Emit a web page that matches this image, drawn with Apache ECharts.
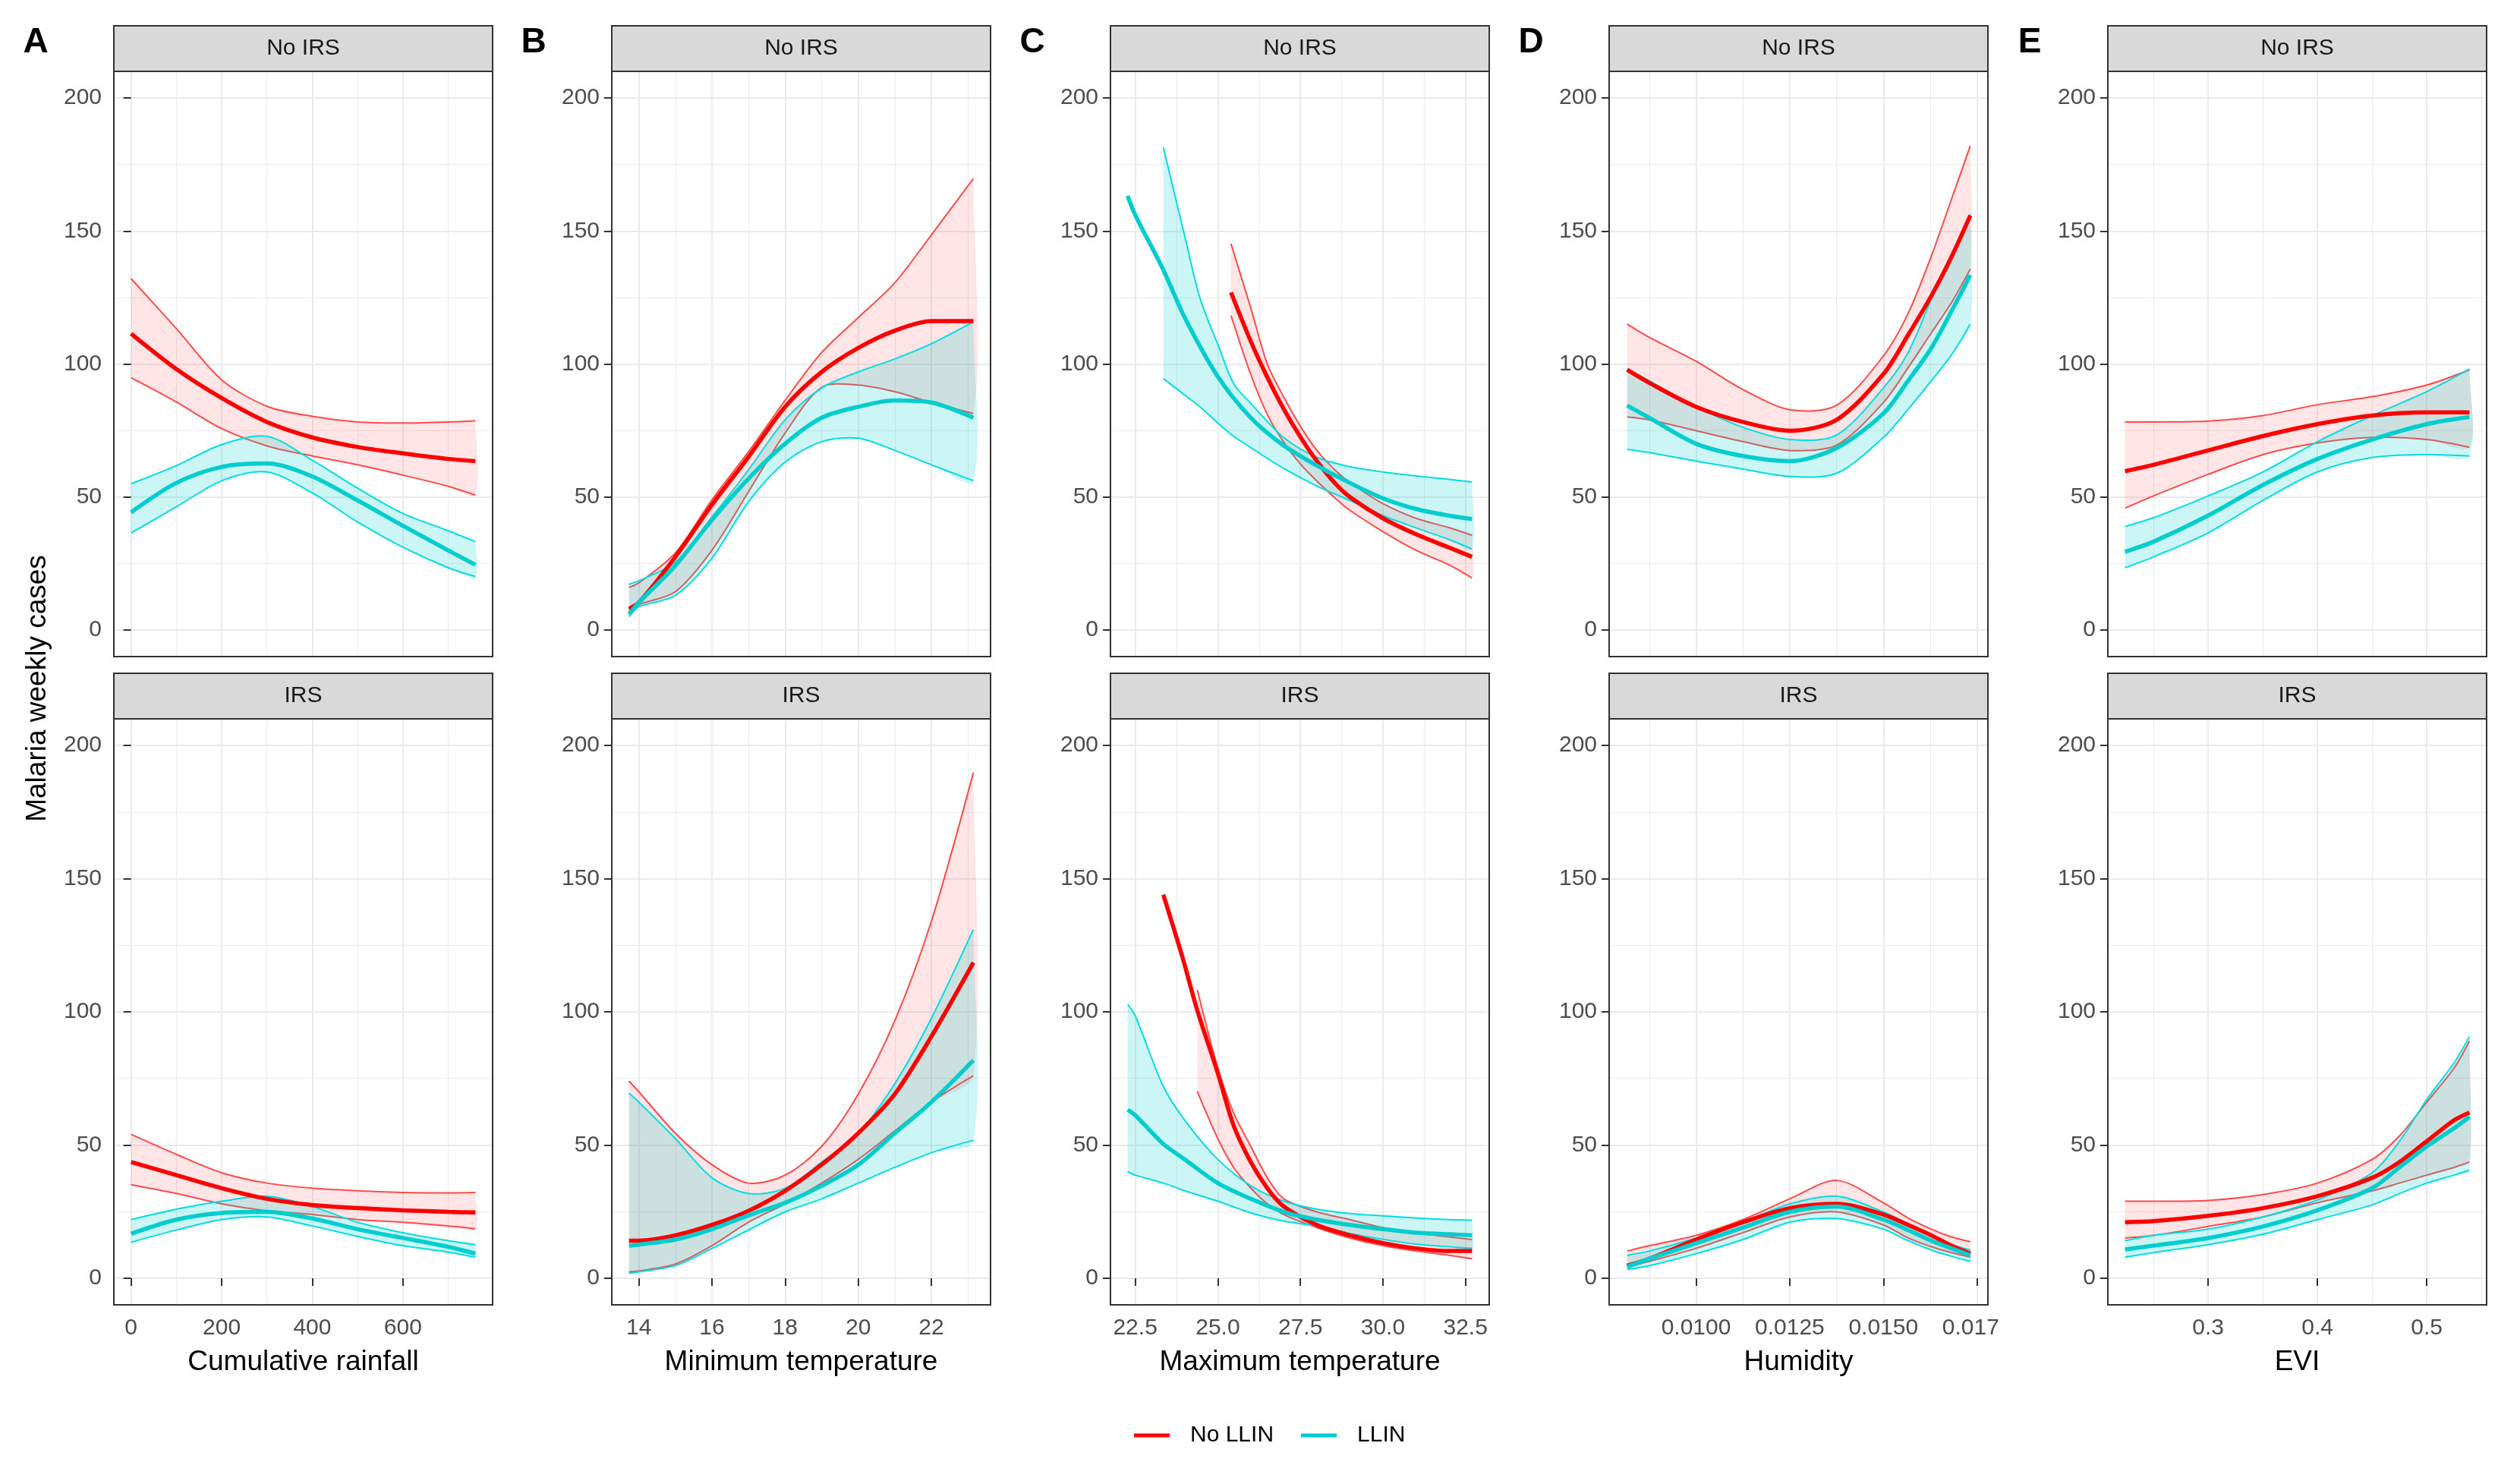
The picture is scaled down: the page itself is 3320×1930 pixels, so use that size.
<!DOCTYPE html>
<html><head><meta charset="utf-8">
<script src="https://cdn.jsdelivr.net/npm/echarts@6/dist/echarts.min.js"></script>
<style>html,body{margin:0;padding:0;background:#fff}#c{width:3320px;height:1930px}</style>
</head><body><div id="c"></div>
<script>
// ---------------- DATA ----------------
const yTicks = [0, 50, 100, 150, 200];
const xTicksA = [0, 200, 400, 600];
const xTicksB = [14, 16, 18, 20, 22];
const xTicksC = [22.5, 25, 27.5, 30, 32.5];
const xTicksD = [0.01, 0.0125, 0.015, 0.0175];
const xTicksE = [0.3, 0.4, 0.5];

// A: Cumulative rainfall
const xA = [0, 100, 200, 300, 400, 500, 600, 700, 760];
const rMeanA1 = [111.4, 98.1, 87.2, 78.2, 72.4, 68.8, 66.4, 64.3, 63.5];
const rLoA1 = [94.8, 85.7, 75.7, 69.2, 65.4, 62.1, 58.2, 54.0, 50.7];
const rHiA1 = [132.1, 113.3, 94.0, 84.1, 80.3, 78.2, 77.8, 78.2, 78.7];
const cMeanA1 = [44.2, 55.3, 61.3, 62.6, 57.7, 48.7, 39.2, 29.9, 24.5];
const cLoA1 = [36.5, 46.3, 56.1, 59.4, 51.5, 40.6, 31.1, 23.4, 20.1];
const cHiA1 = [55.0, 61.8, 69.7, 72.8, 63.8, 53.3, 43.8, 37.3, 33.2];
const rMeanA2 = [43.6, 38.7, 33.8, 29.8, 27.5, 26.3, 25.5, 24.9, 24.7];
const rLoA2 = [35.1, 31.8, 27.9, 25.3, 23.9, 22.0, 21.0, 19.6, 18.6];
const rHiA2 = [54.0, 46.5, 39.6, 35.7, 33.8, 32.8, 32.2, 32.0, 32.2];
const cMeanA2 = [16.7, 22.0, 24.5, 24.9, 22.4, 18.4, 15.1, 11.8, 9.2];
const cLoA2 = [13.5, 18.1, 22.0, 23.0, 19.6, 15.7, 12.2, 9.8, 7.9];
const cHiA2 = [22.0, 25.9, 28.9, 30.8, 26.9, 21.0, 17.1, 14.1, 12.6];

// B: Minimum temperature
const xB = [13.73, 14, 15, 16, 17, 18, 19, 20, 21, 22, 23.15];
const rMeanB1 = [8.0, 10.3, 27.5, 47.1, 65.1, 83.9, 97.0, 106.0, 112.5, 116.1, 116.1];
const rLoB1 = [7.0, 9.5, 14.4, 30.0, 52.0, 74.0, 91.2, 92.1, 89.6, 85.5, 81.4];
const rHiB1 = [16.0, 17.7, 29.0, 49.0, 67.0, 86.3, 104.3, 117.4, 130.5, 148.5, 169.7];
const cMeanB1 = [5.9, 10.3, 24.2, 41.4, 56.9, 70.0, 79.8, 83.9, 86.3, 85.5, 79.8];
const cLoB1 = [5.0, 8.7, 13.0, 27.0, 48.2, 63.1, 70.8, 72.1, 67.5, 62.1, 56.1];
const cHiB1 = [17.2, 18.5, 25.5, 42.5, 60.2, 79.0, 91.0, 97.0, 101.9, 107.6, 115.8];
const rMeanB2 = [14.1, 14.1, 16.1, 20.0, 25.3, 32.8, 42.6, 54.4, 69.1, 90.7, 118.5];
const rLoB2 = [2.4, 2.7, 5.3, 12.2, 21.0, 27.9, 35.7, 44.6, 55.3, 66.1, 76.0];
const rHiB2 = [74.0, 70.0, 54.4, 42.6, 35.7, 38.7, 49.5, 69.1, 96.6, 133.9, 189.8];
const cMeanB2 = [12.2, 12.6, 14.5, 18.4, 23.6, 28.3, 34.7, 42.6, 54.4, 66.1, 81.8];
const cLoB2 = [1.8, 2.4, 4.7, 11.2, 18.1, 24.9, 29.8, 35.7, 41.6, 47.1, 51.8];
const cHiB2 = [69.5, 66.1, 52.4, 37.7, 31.8, 33.8, 43.6, 54.4, 73.0, 97.5, 130.9];

// C: Maximum temperature
const xC = [22.27, 22.5, 23.35, 24, 25, 26, 27, 28, 29, 30, 31, 32, 32.7];
const cMeanC1 = [163.2, 156.0, 135.4, 117.4, 95.3, 79.8, 69.3, 61.8, 55.3, 49.5, 45.5, 43.0, 41.7];
const xCcr1 = [23.35, 24, 24.46, 25, 25.48, 26, 27, 28, 29, 30, 31, 32, 32.7];
const cLoC1 = [94.5, 88.3, 83.9, 77.8, 72.8, 68.5, 60.7, 54.1, 48.7, 43.0, 38.4, 34.0, 30.4];
const cHiC1 = [181.5, 148.0, 124.8, 107.4, 92.6, 85.2, 72.3, 64.9, 61.4, 59.4, 57.9, 56.6, 55.6];
const xCr1 = [25.4, 26, 26.5, 27, 27.53, 28, 28.56, 29, 30, 31, 32, 32.7];
const rMeanC1 = [126.9, 108.5, 95.0, 83.0, 72.0, 63.5, 55.0, 50.0, 42.0, 36.0, 31.0, 27.5];
const rLoC1 = [118.2, 96.0, 81.0, 70.5, 62.0, 56.0, 49.5, 45.0, 37.0, 30.0, 24.5, 19.6];
const rHiC1 = [145.2, 121.0, 100.0, 87.5, 76.0, 67.5, 60.0, 55.5, 47.5, 42.0, 38.5, 35.6];
const cMeanC2 = [63.2, 61.2, 50.4, 44.6, 35.7, 29.8, 24.9, 22.0, 20.0, 18.4, 17.1, 16.5, 16.1];
const cLoC2 = [40.0, 38.7, 35.7, 32.8, 28.9, 24.5, 21.4, 19.6, 16.8, 14.6, 12.8, 11.8, 11.2];
const cHiC2 = [102.8, 98.5, 72.0, 59.3, 44.6, 34.7, 28.9, 25.9, 24.3, 23.4, 22.6, 22.0, 21.8];
const xCrm2 = [23.35, 23.94, 24.38, 25, 25.48, 26, 26.5, 27, 28, 29, 30, 31, 32, 32.7];
const rMeanC2 = [144.0, 120.1, 100.5, 77.0, 57.3, 43.6, 33.8, 26.9, 20.0, 16.1, 13.2, 11.2, 10.2, 10.2];
const xCrr2 = [24.38, 25, 25.48, 26, 26.5, 27, 28, 29, 30, 31, 32, 32.7];
const rLoC2 = [70.1, 52.4, 41.6, 33.8, 27.9, 23.9, 19.0, 15.1, 12.2, 10.2, 8.6, 7.3];
const rHiC2 = [108.3, 79.0, 62.0, 49.5, 37.7, 29.8, 24.9, 22.0, 19.0, 17.1, 15.5, 14.5];

// D: Humidity
const xD = [0.00816, 0.00875, 0.01, 0.01125, 0.0125, 0.01375, 0.015, 0.01566, 0.01628, 0.01682, 0.01732];
const rMeanD1 = [97.8, 92.9, 83.9, 78.2, 74.9, 79.0, 96.2, 110.9, 125.6, 140.3, 155.8];
const rLoD1 = [80.1, 79.0, 74.9, 70.8, 67.5, 69.5, 85.5, 98.6, 111.7, 123.1, 135.7];
const rHiD1 = [115.0, 110.0, 101.0, 90.4, 82.8, 84.5, 103.0, 119.0, 140.6, 162.0, 182.0];
const cMeanD1 = [84.4, 79.8, 70.0, 65.4, 63.5, 68.4, 81.4, 93.7, 106.0, 119.9, 133.4];
const cLoD1 = [67.9, 66.7, 63.5, 60.5, 57.7, 58.9, 72.4, 83.0, 93.7, 103.5, 115.0];
const cHiD1 = [98.1, 93.7, 83.9, 76.2, 71.6, 73.3, 91.0, 104.3, 124.3, 141.0, 156.3];
const rMeanD2 = [4.7, 7.3, 14.5, 21.0, 26.3, 27.9, 23.9, 20.0, 16.1, 12.2, 9.2];
const rLoD2 = [4.3, 6.3, 11.2, 17.1, 23.0, 24.9, 20.0, 15.1, 11.8, 9.6, 7.9];
const rHiD2 = [10.2, 12.2, 16.1, 22.0, 29.8, 36.7, 28.3, 22.6, 18.4, 15.5, 13.7];
const cMeanD2 = [4.3, 7.3, 13.1, 19.0, 24.9, 26.9, 22.0, 18.1, 14.1, 11.2, 8.6];
const cLoD2 = [3.3, 4.7, 9.2, 14.5, 21.0, 22.4, 18.4, 14.1, 10.6, 8.2, 6.3];
const cHiD2 = [8.6, 10.2, 15.1, 21.0, 27.9, 30.8, 24.9, 20.4, 16.1, 12.6, 10.6];

// E: EVI
const xE1 = [0.224, 0.25, 0.3, 0.35, 0.4, 0.45, 0.5, 0.539];
const rMeanE1 = [59.7, 62.1, 67.5, 72.9, 77.4, 80.6, 81.8, 81.8];
const rLoE1 = [45.8, 50.4, 58.5, 65.9, 70.3, 72.4, 71.6, 68.7];
const rHiE1 = [78.2, 78.2, 78.5, 80.6, 84.7, 87.7, 92.1, 97.8];
const cMeanE1 = [29.4, 33.2, 43.0, 54.5, 64.3, 71.6, 77.4, 80.1];
const cLoE1 = [23.4, 27.5, 36.5, 48.7, 59.4, 64.8, 65.9, 65.4];
const cHiE1 = [38.9, 42.2, 50.4, 59.4, 70.8, 80.6, 89.6, 98.1];
const xE2 = [0.224, 0.25, 0.3, 0.35, 0.4, 0.45, 0.475, 0.5, 0.525, 0.539];
const rMeanE2 = [21.0, 21.4, 23.4, 26.3, 30.8, 37.7, 43.6, 51.4, 59.3, 62.2];
const rLoE2 = [15.1, 16.1, 19.4, 23.0, 28.3, 32.8, 35.7, 38.7, 41.6, 43.6];
const rHiE2 = [28.9, 28.9, 29.2, 31.4, 35.7, 44.6, 53.4, 66.1, 78.9, 89.1];
const cMeanE2 = [10.8, 12.2, 15.1, 19.4, 25.5, 33.8, 41.6, 49.5, 56.3, 60.6];
const cLoE2 = [7.9, 9.6, 12.6, 16.5, 22.0, 27.5, 31.8, 35.7, 38.7, 40.6];
const cHiE2 = [14.1, 16.1, 18.4, 23.0, 29.4, 39.6, 51.4, 67.1, 80.9, 90.7];

const seriesNames = ['No LLIN', 'LLIN'];
const stripLabels = ['No IRS', 'IRS'];
const yTitle = 'Malaria weekly cases';

// ---------------- LAYOUT / STYLE ----------------
const FONT = '"Liberation Sans", Arial, Helvetica, sans-serif';
const cols = [
  {letter: 'A', title: 'Cumulative rainfall', min: -38, max: 798, step: 200, ticks: xTicksA, dec: 0},
  {letter: 'B', title: 'Minimum temperature', min: 13.26, max: 23.62, step: 2, ticks: xTicksB, dec: 0},
  {letter: 'C', title: 'Maximum temperature', min: 21.75, max: 33.22, step: 2.5, ticks: xTicksC, dec: 1},
  {letter: 'D', title: 'Humidity', min: 0.00768, max: 0.01779, step: 0.0025, ticks: xTicksD, dec: 4},
  {letter: 'E', title: 'EVI', min: 0.2083, max: 0.5547, step: 0.1, ticks: xTicksE, dec: 1}
];
const panels = [
  {c: 0, r: 0, red: [xA, rMeanA1, xA, rLoA1, rHiA1], cyan: [xA, cMeanA1, xA, cLoA1, cHiA1]},
  {c: 0, r: 1, red: [xA, rMeanA2, xA, rLoA2, rHiA2], cyan: [xA, cMeanA2, xA, cLoA2, cHiA2]},
  {c: 1, r: 0, red: [xB, rMeanB1, xB, rLoB1, rHiB1], cyan: [xB, cMeanB1, xB, cLoB1, cHiB1]},
  {c: 1, r: 1, red: [xB, rMeanB2, xB, rLoB2, rHiB2], cyan: [xB, cMeanB2, xB, cLoB2, cHiB2]},
  {c: 2, r: 0, red: [xCr1, rMeanC1, xCr1, rLoC1, rHiC1], cyan: [xC, cMeanC1, xCcr1, cLoC1, cHiC1]},
  {c: 2, r: 1, red: [xCrm2, rMeanC2, xCrr2, rLoC2, rHiC2], cyan: [xC, cMeanC2, xC, cLoC2, cHiC2]},
  {c: 3, r: 0, red: [xD, rMeanD1, xD, rLoD1, rHiD1], cyan: [xD, cMeanD1, xD, cLoD1, cHiD1]},
  {c: 3, r: 1, red: [xD, rMeanD2, xD, rLoD2, rHiD2], cyan: [xD, cMeanD2, xD, cLoD2, cHiD2]},
  {c: 4, r: 0, red: [xE1, rMeanE1, xE1, rLoE1, rHiE1], cyan: [xE1, cMeanE1, xE1, cLoE1, cHiE1]},
  {c: 4, r: 1, red: [xE2, rMeanE2, xE2, rLoE2, rHiE2], cyan: [xE2, cMeanE2, xE2, cLoE2, cHiE2]}
];
const colLeft = [150, 806, 1463, 2120, 2777];
const panelW = 499;
const rowTop = [94, 947];
const panelH = [771, 772];
const stripH = 60;
const RED = '#FF0000', RED_EDGE = '#FF4A4A', RED_FILL = 'rgba(255,0,0,0.10)';
const CYAN = '#00CDCD', CYAN_EDGE = '#00DEE3', CYAN_FILL = 'rgba(0,205,205,0.20)';
const S = 0.3;
const GRID = '#EBEBEB';

function ribbon(idx, xs, lo, hi, fill, edge) {
  return {
    type: 'custom', xAxisIndex: idx, yAxisIndex: idx, silent: true, z: 2, animation: false,
    data: xs.map((x, i) => [x, lo[i], hi[i]]),
    encode: {x: 0, y: [1, 2]},
    renderItem: function (params, api) {
      if (params.dataIndex !== 0) return null;
      const top = xs.map((x, i) => api.coord([x, hi[i]]));
      const bot = xs.map((x, i) => api.coord([x, lo[i]]));
      const n = top.length;
      const poly = [top[0]].concat(top, [top[n - 1]], bot.slice().reverse(), [bot[0]]);
      return {
        type: 'group',
        children: [
          {type: 'polygon', shape: {points: poly, smooth: S}, style: {fill: fill, stroke: null}},
          {type: 'polyline', shape: {points: top, smooth: S}, style: {stroke: edge, lineWidth: 2, fill: null}},
          {type: 'polyline', shape: {points: bot, smooth: S}, style: {stroke: edge, lineWidth: 2, fill: null}}
        ]
      };
    }
  };
}
function meanLine(idx, name, xs, ys, color) {
  return {
    type: 'line', name: name, xAxisIndex: idx, yAxisIndex: idx, silent: true, animation: false,
    data: xs.map((x, i) => [x, ys[i]]), symbol: 'none', showSymbol: false, smooth: S, z: 3,
    lineStyle: {color: color, width: 5.5}, itemStyle: {color: color}
  };
}

const grids = [], xAxes = [], yAxes = [], series = [], graphics = [];
panels.forEach((p, idx) => {
  const col = cols[p.c];
  const left = colLeft[p.c], top = rowTop[p.r], h = panelH[p.r];
  grids.push({left: left, top: top, width: panelW, height: h, show: false});
  xAxes.push({
    type: 'value', gridIndex: idx, min: col.min, max: col.max,
    minInterval: col.step, maxInterval: col.step,
    axisLine: {show: false},
    axisTick: {show: p.r === 1, length: 10, customValues: col.ticks, lineStyle: {color: '#333333', width: 2}},
    axisLabel: {show: p.r === 1, customValues: col.ticks, fontSize: 30, color: '#4D4D4D', fontFamily: FONT, margin: 16,
      formatter: v => Number(v).toFixed(col.dec)},
    splitLine: {show: true, lineStyle: {color: GRID, width: 2}},
    minorTick: {show: false, splitNumber: 2},
    minorSplitLine: {show: true, lineStyle: {color: GRID, width: 1}},
    name: p.r === 1 ? col.title : '', nameLocation: 'middle', nameGap: 57,
    nameTextStyle: {fontSize: 37, color: '#000000', fontFamily: FONT}
  });
  yAxes.push({
    type: 'value', gridIndex: idx, min: -10, max: 210, minInterval: 50, maxInterval: 50,
    axisLine: {show: false},
    axisTick: {show: true, length: 10, customValues: yTicks, lineStyle: {color: '#333333', width: 2}},
    axisLabel: {customValues: yTicks, fontSize: 30, color: '#4D4D4D', fontFamily: FONT, margin: 16},
    splitLine: {show: true, lineStyle: {color: GRID, width: 2}},
    minorTick: {show: false, splitNumber: 2},
    minorSplitLine: {show: true, lineStyle: {color: GRID, width: 1}}
  });
  const rd = p.red, cy = p.cyan;
  series.push(ribbon(idx, rd[2], rd[3], rd[4], RED_FILL, RED_EDGE));
  series.push(ribbon(idx, cy[2], cy[3], cy[4], CYAN_FILL, CYAN_EDGE));
  series.push(meanLine(idx, seriesNames[0], rd[0], rd[1], RED));
  series.push(meanLine(idx, seriesNames[1], cy[0], cy[1], CYAN));
  graphics.push({type: 'rect', z: 20, shape: {x: left, y: top - stripH, width: panelW, height: stripH},
    style: {fill: '#D9D9D9', stroke: '#333333', lineWidth: 2}});
  graphics.push({type: 'text', z: 21, x: left + panelW / 2, y: top - stripH / 2,
    style: {text: stripLabels[p.r], fontSize: 30, fontFamily: FONT, fill: '#1A1A1A', align: 'center', verticalAlign: 'middle'}});
  graphics.push({type: 'rect', z: 20, shape: {x: left, y: top, width: panelW, height: h},
    style: {fill: null, stroke: '#333333', lineWidth: 2}});
});
cols.forEach((col, c) => {
  graphics.push({type: 'text', z: 21, x: colLeft[c] - 103, y: 56,
    style: {text: col.letter, fontSize: 46, fontWeight: 'bold', fontFamily: FONT, fill: '#000', align: 'center', verticalAlign: 'middle'}});
});
graphics.push({type: 'text', z: 21, x: 50, y: 907, rotation: Math.PI / 2,
  style: {text: yTitle, fontSize: 37, fontFamily: FONT, fill: '#000', align: 'center', verticalAlign: 'middle'}});
// the rightmost humidity tick label is cut off by the neighbouring plot in the source
graphics.push({type: 'rect', zlevel: 1, z: 30, shape: {x: 2634, y: 1728, width: 60, height: 52}, style: {fill: '#FFFFFF', stroke: null}});

const chart = echarts.init(document.getElementById('c'), null, {renderer: 'canvas'});
chart.setOption({
  backgroundColor: '#FFFFFF',
  animation: false,
  textStyle: {fontFamily: FONT},
  grid: grids, xAxis: xAxes, yAxis: yAxes, series: series,
  legend: {
    data: seriesNames, left: 1489, top: 1871, icon: 'rect', itemWidth: 47, itemHeight: 5, itemGap: 36,
    selectedMode: false,
    textStyle: {fontSize: 30, color: '#000', fontFamily: FONT, padding: [0, 0, 0, 22]}
  },
  graphic: graphics
});
</script></body></html>
